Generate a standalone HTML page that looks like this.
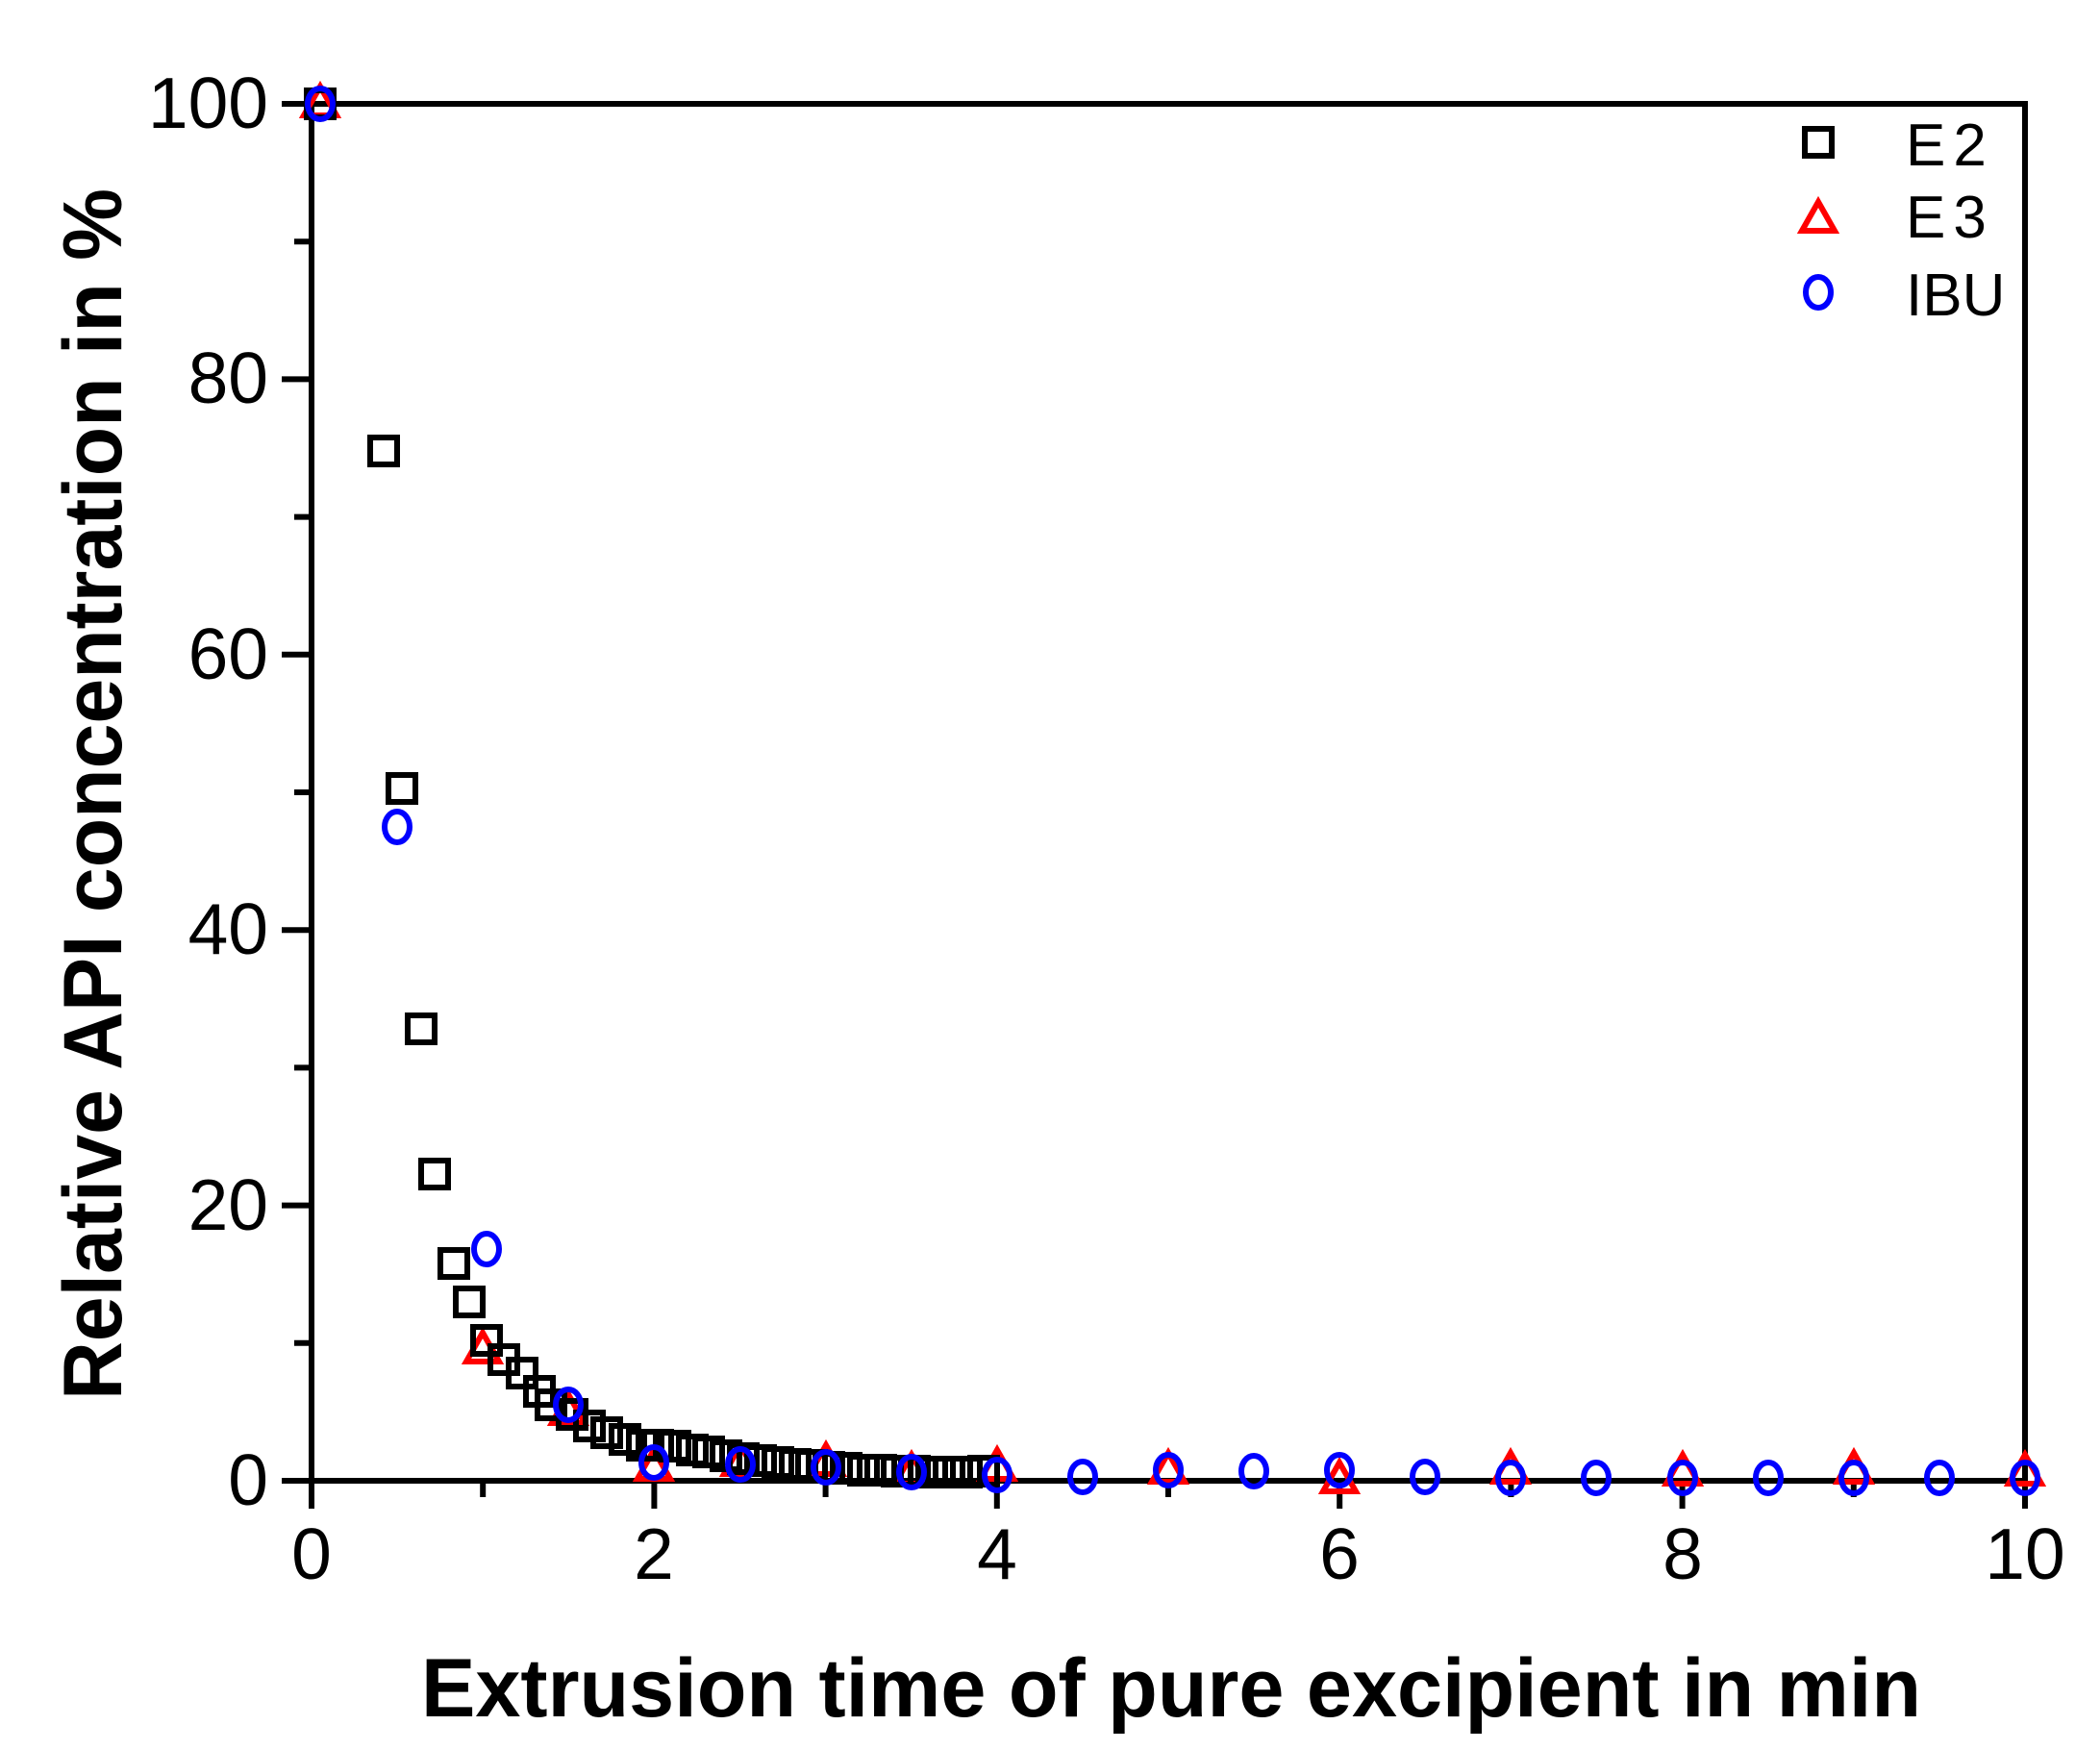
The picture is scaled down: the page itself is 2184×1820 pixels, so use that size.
<!DOCTYPE html>
<html><head><meta charset="utf-8"><style>html,body{margin:0;padding:0;background:#fff}svg{display:block}</style></head><body>
<svg width="2184" height="1820" viewBox="0 0 2184 1820" xmlns="http://www.w3.org/2000/svg" font-family="Liberation Sans, Arial, sans-serif">
<defs>
<rect id="sq" x="-14" y="-14" width="28" height="28" fill="none" stroke="#000" stroke-width="6"/>
<polygon id="tr" points="0,-18 17,12 -17,12" fill="none" stroke="#f00" stroke-width="6"/>
<ellipse id="ci" rx="13" ry="16" fill="none" stroke="#00f" stroke-width="6"/>
</defs>
<g stroke="#000" stroke-width="6" fill="none">
<rect x="324" y="108" width="1782" height="1432"/>
<path d="M293 1540H324M293 1253.6H324M293 967.2H324M293 680.8H324M293 394.4H324M293 108H324"/>
<path d="M306 1396.8H324M306 1110.4H324M306 824H324M306 537.6H324M306 251.2H324"/>
<path d="M324 1540V1569M680.4 1540V1569M1036.8 1540V1569M1393.2 1540V1569M1749.6 1540V1569M2106 1540V1569"/>
<path d="M502.2 1540V1557M858.6 1540V1557M1215 1540V1557M1571.4 1540V1557M1927.8 1540V1557"/>
</g>
<g font-size="75" fill="#000" text-anchor="end">
<text x="279" y="1565">0</text><text x="279" y="1279">20</text><text x="279" y="992">40</text><text x="279" y="706">60</text><text x="279" y="419">80</text><text x="279" y="133">100</text>
</g>
<g font-size="75" fill="#000" text-anchor="middle">
<text x="324" y="1642">0</text><text x="680" y="1642">2</text><text x="1037" y="1642">4</text><text x="1393" y="1642">6</text><text x="1750" y="1642">8</text><text x="2106" y="1642">10</text>
</g>
<text x="1218" y="1785" font-size="86" font-weight="bold" text-anchor="middle" textLength="1560" lengthAdjust="spacingAndGlyphs">Extrusion time of pure excipient in min</text>
<text transform="translate(126,826) rotate(-90)" font-size="86" font-weight="bold" text-anchor="middle" textLength="1260" lengthAdjust="spacingAndGlyphs">Relative API concentration in %</text>
<use href="#sq" x="1891" y="148"/>
<use href="#tr" x="1891" y="228"/>
<use href="#ci" x="1891" y="304"/>
<g font-size="62" fill="#000">
<text x="1982" y="172" letter-spacing="8">E2</text>
<text x="1982" y="247" letter-spacing="8">E3</text>
<text x="1982" y="328">IBU</text>
</g>
<g>
<use href="#tr" x="333" y="108"/><use href="#tr" x="502" y="1404"/><use href="#tr" x="591" y="1468"/><use href="#tr" x="680" y="1526"/><use href="#tr" x="770" y="1521"/><use href="#tr" x="859" y="1521"/><use href="#tr" x="948" y="1531"/><use href="#tr" x="1037" y="1526"/><use href="#tr" x="1215" y="1529"/><use href="#tr" x="1393" y="1539"/><use href="#tr" x="1571" y="1529"/><use href="#tr" x="1750" y="1531"/><use href="#tr" x="1928" y="1529"/><use href="#tr" x="2106" y="1531"/>
</g>
<g>
<use href="#sq" x="333" y="108"/><use href="#sq" x="399" y="469"/><use href="#sq" x="418" y="820"/><use href="#sq" x="438" y="1070"/><use href="#sq" x="452" y="1221"/><use href="#sq" x="472" y="1314"/><use href="#sq" x="488" y="1354"/><use href="#sq" x="506" y="1394"/><use href="#sq" x="524" y="1414"/><use href="#sq" x="543" y="1428"/><use href="#sq" x="561" y="1447"/><use href="#sq" x="573" y="1461"/><use href="#sq" x="595" y="1471"/><use href="#sq" x="613" y="1483"/><use href="#sq" x="631" y="1490"/><use href="#sq" x="650" y="1497"/><use href="#sq" x="668" y="1503"/><use href="#sq" x="684" y="1503"/><use href="#sq" x="702" y="1504"/><use href="#sq" x="720" y="1508"/><use href="#sq" x="737" y="1510"/><use href="#sq" x="755" y="1514"/><use href="#sq" x="773" y="1517"/><use href="#sq" x="791" y="1519"/><use href="#sq" x="809" y="1521"/><use href="#sq" x="827" y="1523"/><use href="#sq" x="844" y="1524"/><use href="#sq" x="862" y="1526"/><use href="#sq" x="880" y="1527"/><use href="#sq" x="898" y="1529"/><use href="#sq" x="916" y="1529"/><use href="#sq" x="933" y="1530"/><use href="#sq" x="951" y="1530"/><use href="#sq" x="969" y="1531"/><use href="#sq" x="987" y="1531"/><use href="#sq" x="1005" y="1531"/><use href="#sq" x="1023" y="1530"/>
</g>
<g>
<use href="#ci" x="333" y="108"/><use href="#ci" x="413" y="860"/><use href="#ci" x="506" y="1299"/><use href="#ci" x="591" y="1461"/><use href="#ci" x="680" y="1521"/><use href="#ci" x="770" y="1523"/><use href="#ci" x="859" y="1526"/><use href="#ci" x="948" y="1531"/><use href="#ci" x="1037" y="1534"/><use href="#ci" x="1126" y="1536"/><use href="#ci" x="1215" y="1529"/><use href="#ci" x="1304" y="1530"/><use href="#ci" x="1393" y="1529"/><use href="#ci" x="1482" y="1536"/><use href="#ci" x="1571" y="1537"/><use href="#ci" x="1660" y="1537"/><use href="#ci" x="1750" y="1537"/><use href="#ci" x="1839" y="1537"/><use href="#ci" x="1928" y="1537"/><use href="#ci" x="2017" y="1537"/><use href="#ci" x="2106" y="1537"/>
</g>
</svg>
</body></html>
